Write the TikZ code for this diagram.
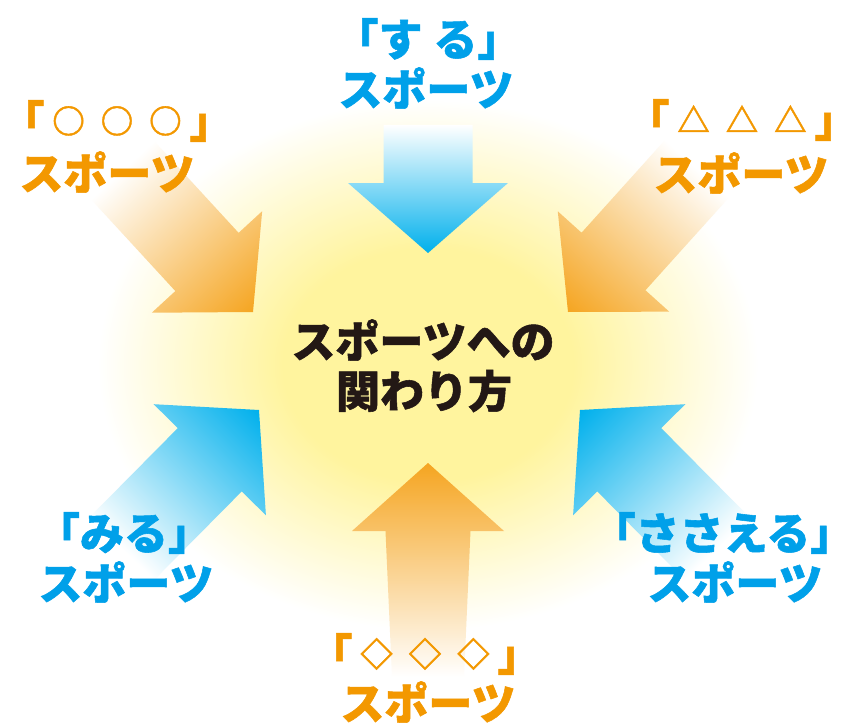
\documentclass[tikz,border=0pt]{standalone}
\usepackage{fontspec}
\newfontfamily\jp{Noto Sans CJK JP}[BoldFeatures={FakeBold=1.2}]
\definecolor{glowyel}{HTML}{FFF49E}
\definecolor{blueA}{HTML}{00B0EC}
\definecolor{orangeA}{HTML}{F5A521}
\definecolor{blueT}{HTML}{00A0E9}
\definecolor{orangeT}{HTML}{F39800}
\definecolor{inkT}{HTML}{231815}
\pgfdeclareradialshading{glowshade}{\pgfpoint{0bp}{0bp}}{color(0bp)=(glowyel); color(11bp)=(glowyel); color(25bp)=(white); color(50bp)=(white)}
% tip x, tip y, angle, head length, head half width, shaft half width, tail half width, shaft length, colour
\newcommand{\sportarrow}[9]{%
  \begin{scope}[transform canvas={shift={(#1,#2)},rotate=#3}]
    \shade[left color=white, middle color=#9!38, right color=#9]
      (0,0) -- (-#4,#5) -- (-#4,#6) -- (-#4-#8,#7) -- (-#4-#8,-#7)
      -- (-#4,-#6) -- (-#4,-#5) -- cycle;
  \end{scope}}
\newcommand{\smallsym}[1]{\makebox[1.1em]{\raisebox{3.3pt}{\fontsize{24.5}{24.5}\selectfont #1}}}
\newcommand{\lbr}{「}
\newcommand{\rbr}{」}
\tikzset{
  lbl/.style={font=\jp\bfseries\fontsize{33}{36}\selectfont, inner sep=0pt, anchor=center},
  bluelbl/.style={lbl, text=blueT},
  orangelbl/.style={lbl, text=orangeT},
  inklbl/.style={lbl, text=inkT}
}
\begin{document}
\begin{tikzpicture}[x=0.75pt,y=-0.75pt]
\useasboundingbox (0,0) rectangle (861,724);
\fill[white] (0,0) rectangle (861,724);
% central glow
\shade[shading=glowshade] (428,365) ellipse [x radius=330, y radius=265];
% arrows
\sportarrow{428}{253}{-90}{70}{80}{44.5}{44.5}{58}{blueA}
\sportarrow{428}{463}{90}{68}{76}{42.5}{36}{146}{orangeA}
\sportarrow{253}{312}{-47.4}{68}{75}{43}{43}{125}{orangeA}
\sportarrow{568}{312}{-132}{68}{75}{43}{43}{125}{orangeA}
\sportarrow{259}{410}{45.3}{70}{79}{45}{45}{125}{blueA}
\sportarrow{580}{410}{134.7}{70}{79}{45}{45}{125}{blueA}
% labels
\node[bluelbl] (suru1) at (428,39) {\lbr す\hspace{0.25em}る\rbr};
\node[bluelbl] (suru2) at (426,88) {スポーツ};
\node[orangelbl] (maru1) at (117,121) {\lbr\smallsym{○}\smallsym{○}\smallsym{○}\rbr};
\node[orangelbl] (maru2) at (107,172) {スポーツ};
\node[orangelbl] (sank1) at (742,120) {\lbr\smallsym{△}\smallsym{△}\smallsym{△}\rbr};
\node[orangelbl] (sank2) at (741,173) {スポーツ};
\node[bluelbl] (miru1) at (124,533) {\lbr みる\rbr};
\node[bluelbl] (miru2) at (126,582) {スポーツ};
\node[bluelbl] (sasa1) at (723,533) {\lbr ささえる\rbr};
\node[bluelbl] (sasa2) at (735,582) {スポーツ};
\node[orangelbl] (hishi1) at (425,654) {\lbr\smallsym{◇}\smallsym{◇}\smallsym{◇}\rbr};
\node[orangelbl] (hishi2) at (428,702) {スポーツ};
\node[inklbl] (c1) at (423,340) {スポーツへの};
\node[inklbl] (c2) at (424,391) {関わり方};
\end{tikzpicture}
\end{document}
